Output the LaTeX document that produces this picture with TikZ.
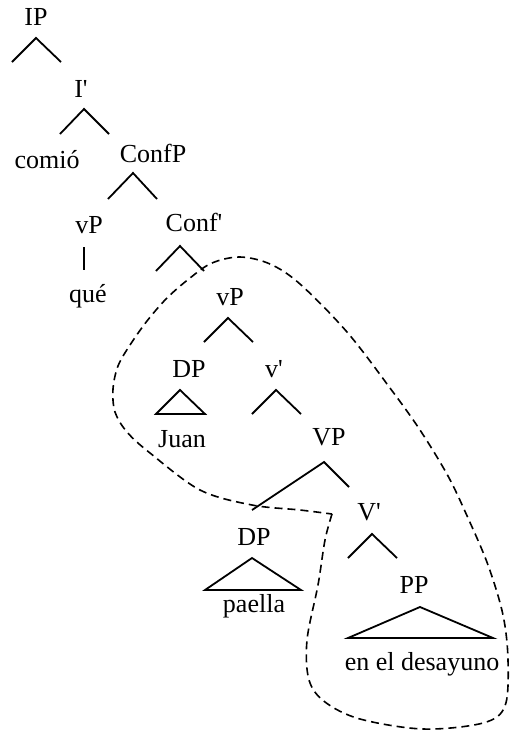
\documentclass[tikz,border=0pt]{standalone}
\usepackage{fontspec}
\setmainfont{Liberation Serif}
\newcommand\mkroof[7]{%
  \coordinate (#1a) at (#2,#3);
  \coordinate (#1l) at (#4,#5);
  \coordinate (#1r) at (#6,#7);
  \draw[branch] (#1l) -- (#1a) -- (#1r);}
\newcommand\mktri[7]{%
  \coordinate (#1a) at (#2,#3);
  \coordinate (#1l) at (#4,#5);
  \coordinate (#1r) at (#6,#7);
  \draw[branch] (#1l) -- (#1a) -- (#1r) -- cycle;}
\begin{document}
\begin{tikzpicture}[x=1pt,y=-1pt,
  lbl/.style={anchor=base,inner sep=0pt,font=\fontsize{26}{30}\selectfont},
  branch/.style={line width=1.8pt,line join=miter},
  circ/.style={line width=1.6pt,dash pattern=on 8pt off 5pt}]
\useasboundingbox (0,0) rectangle (509,736);
\node[lbl] (IP) at (36,25) {IP};
\node[lbl] (Ibar) at (81,97) {I\textquotesingle};
\node[lbl] (comio) at (47,168) {comió};
\node[lbl] (ConfP) at (153,162) {ConfP};
\node[lbl] (vPa) at (89,233) {vP};
\node[lbl] (Confbar) at (194,231) {Conf\textquotesingle};
\node[lbl] (que) at (88,302) {qué};
\node[lbl] (vPb) at (230,305) {vP};
\node[lbl] (DPa) at (189,377) {DP};
\node[lbl] (vbar) at (274,377) {v\textquotesingle};
\node[lbl] (Juan) at (182,447) {Juan};
\node[lbl] (VP) at (329,445) {VP};
\node[lbl] (Vbar) at (369,520) {V\textquotesingle};
\node[lbl] (DPb) at (254,545) {DP};
\node[lbl] (paella) at (254,612) {paella};
\node[lbl] (PP) at (414,593) {PP};
\node[lbl] (desayuno) at (422,670) {en el desayuno};
\mkroof{ip}{36}{38}{12}{62}{61}{62}
\mkroof{ib}{84}{109}{60}{134}{109}{134}
\mkroof{cp}{133}{173}{108}{199}{157}{199}
\coordinate (vt) at (84,247);
\coordinate (vb) at (84,270);
\draw[branch] (vt) -- (vb);
\mkroof{cb}{180}{246}{156}{271}{204}{271}
\mkroof{vp}{228}{318}{204}{342}{253}{342}
\mktri{dpa}{180}{390}{156}{414}{205}{414}
\mkroof{vb}{276}{390}{252}{414}{301}{414}
\mkroof{VP}{324}{462}{252}{510}{349}{487}
\mktri{dpb}{252}{558}{205}{590}{301}{590}
\mkroof{Vb}{372}{534}{348}{558}{397}{558}
\mktri{pp}{420}{607}{348}{638}{493}{638}
\draw[circ] plot[smooth,tension=0.55] coordinates {
 (332,514) (325,540) (318,585) (307,640) (309,680) (325,702) (360,719)
 (423,729) (483,723) (505,706) (508,660) (503,615) (488,565)
 (468,518) (448,476) (420,430) (390,388) (347,332) (300,284)
 (270,264) (240,257) (212,263) (190,278) (167,298) (147,321)
 (130,345) (118,366) (113,389) (115,412) (127,432) (150,453)
 (200,490) (252,505) (300,510) (332,514)};
\end{tikzpicture}
\end{document}
